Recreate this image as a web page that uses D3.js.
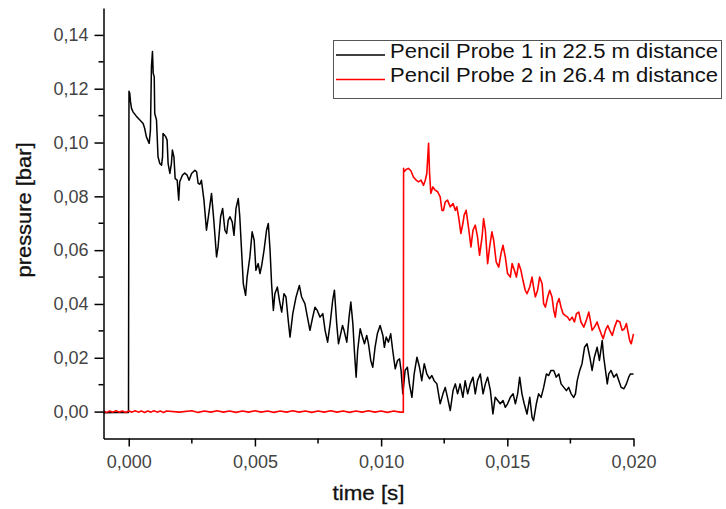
<!DOCTYPE html>
<html>
<head>
<meta charset="utf-8">
<script src="https://cdn.jsdelivr.net/npm/d3@7/dist/d3.min.js"></script>
<style>
  html, body { margin: 0; padding: 0; background: #ffffff; }
  svg { display: block; font-family: "Liberation Sans", Arial, sans-serif; }
</style>
</head>
<body>
<svg id="chart" width="726" height="509"></svg>
<script>
// Pressure traces of two pencil probes.
// Each entry: [time in s, pressure in bar]

const probe1 = [
  [-0.00100,-0.0004],[-0.00050,-0.0003],[-0.00001,-0.0003],
  [0.00001,0.1191],[0.00004,0.1183],[0.00007,0.1152],[0.00011,0.1127],[0.00017,0.1114],[0.00030,0.1098],
  [0.00044,0.1084],[0.00057,0.1071],[0.00063,0.1053],[0.00070,0.1021],[0.00081,0.0997],[0.00086,0.1046],
  [0.00090,0.1282],[0.00094,0.1338],[0.00097,0.1257],[0.00101,0.1245],[0.00103,0.1108],[0.00110,0.1084],
  [0.00116,0.0947],[0.00123,0.0922],[0.00130,0.0916],[0.00134,0.0947],[0.00136,0.1034],[0.00147,0.1021],
  [0.00152,0.1009],[0.00156,0.0922],[0.00163,0.0885],[0.00169,0.0922],[0.00173,0.0972],[0.00179,0.0947],
  [0.00184,0.0866],[0.00192,0.0860],[0.00198,0.0786],[0.00202,0.0854],[0.00213,0.0879],[0.00222,0.0887],
  [0.00231,0.0879],[0.00239,0.0860],[0.00249,0.0885],[0.00262,0.0897],[0.00269,0.0891],[0.00275,0.0848],
  [0.00282,0.0845],[0.00288,0.0860],[0.00298,0.0786],[0.00308,0.0674],[0.00319,0.0748],[0.00328,0.0811],
  [0.00337,0.0711],[0.00348,0.0575],[0.00354,0.0612],[0.00364,0.0724],[0.00372,0.0755],[0.00381,0.0674],
  [0.00388,0.0662],[0.00394,0.0711],[0.00401,0.0724],[0.00410,0.0705],[0.00417,0.0655],[0.00425,0.0755],
  [0.00434,0.0792],[0.00440,0.0724],[0.00447,0.0599],[0.00454,0.0475],[0.00463,0.0432],[0.00469,0.0500],
  [0.00480,0.0575],[0.00489,0.0668],[0.00497,0.0637],[0.00504,0.0525],[0.00513,0.0550],[0.00520,0.0513],
  [0.00527,0.0544],[0.00536,0.0599],[0.00546,0.0674],[0.00553,0.0699],[0.00560,0.0599],[0.00566,0.0475],
  [0.00573,0.0376],[0.00579,0.0438],[0.00589,0.0463],[0.00597,0.0413],[0.00606,0.0370],[0.00615,0.0438],
  [0.00623,0.0426],[0.00632,0.0339],[0.00639,0.0277],[0.00650,0.0364],[0.00663,0.0426],[0.00676,0.0469],
  [0.00685,0.0426],[0.00698,0.0401],[0.00708,0.0351],[0.00718,0.0302],[0.00729,0.0351],[0.00738,0.0388],
  [0.00747,0.0376],[0.00758,0.0351],[0.00769,0.0364],[0.00778,0.0302],[0.00788,0.0258],[0.00798,0.0327],
  [0.00808,0.0413],[0.00815,0.0451],[0.00824,0.0327],[0.00831,0.0252],[0.00837,0.0277],[0.00847,0.0320],
  [0.00853,0.0302],[0.00864,0.0258],[0.00873,0.0351],[0.00880,0.0407],[0.00888,0.0327],[0.00894,0.0227],
  [0.00901,0.0128],[0.00907,0.0227],[0.00917,0.0308],[0.00926,0.0277],[0.00934,0.0252],[0.00943,0.0283],
  [0.00950,0.0252],[0.00959,0.0190],[0.00967,0.0165],[0.00976,0.0239],[0.00985,0.0289],[0.00996,0.0320],
  [0.01007,0.0283],[0.01013,0.0239],[0.01020,0.0277],[0.01029,0.0258],[0.01038,0.0289],[0.01046,0.0227],
  [0.01056,0.0159],[0.01065,0.0190],[0.01073,0.0196],[0.01079,0.0153],[0.01086,0.0066],[0.01095,0.0153],
  [0.01104,0.0165],[0.01112,0.0103],[0.01122,0.0053],[0.01131,0.0140],[0.01142,0.0202],[0.01152,0.0165],
  [0.01161,0.0115],[0.01171,0.0178],[0.01181,0.0140],[0.01192,0.0122],[0.01201,0.0134],[0.01210,0.0115],
  [0.01221,0.0103],[0.01234,0.0029],[0.01245,0.0066],[0.01254,0.0090],[0.01263,0.0053],[0.01274,0.0004],
  [0.01285,0.0078],[0.01294,0.0103],[0.01303,0.0066],[0.01313,0.0103],[0.01324,0.0053],[0.01333,0.0115],
  [0.01343,0.0066],[0.01353,0.0103],[0.01364,0.0128],[0.01373,0.0066],[0.01382,0.0115],[0.01393,0.0140],
  [0.01404,0.0066],[0.01413,0.0103],[0.01422,0.0128],[0.01433,0.0078],[0.01443,-0.0009],[0.01452,0.0053],
  [0.01462,0.0041],[0.01472,0.0029],[0.01483,0.0041],[0.01492,0.0016],[0.01501,0.0029],[0.01512,0.0053],
  [0.01523,0.0066],[0.01532,0.0029],[0.01541,0.0066],[0.01549,0.0128],[0.01558,0.0066],[0.01567,0.0029],
  [0.01578,-0.0009],[0.01589,0.0053],[0.01598,-0.0021],[0.01604,-0.0034],[0.01615,0.0029],[0.01624,0.0066],
  [0.01634,0.0053],[0.01644,0.0090],[0.01655,0.0140],[0.01664,0.0134],[0.01673,0.0153],[0.01684,0.0153],
  [0.01694,0.0128],[0.01704,0.0140],[0.01713,0.0103],[0.01724,0.0090],[0.01734,0.0078],[0.01743,0.0090],
  [0.01753,0.0066],[0.01763,0.0053],[0.01770,0.0066],[0.01777,0.0115],[0.01787,0.0153],[0.01796,0.0178],
  [0.01806,0.0239],[0.01816,0.0252],[0.01827,0.0202],[0.01836,0.0153],[0.01845,0.0202],[0.01856,0.0239],
  [0.01865,0.0190],[0.01876,0.0264],[0.01882,0.0202],[0.01889,0.0153],[0.01896,0.0103],[0.01902,0.0140],
  [0.01911,0.0153],[0.01922,0.0128],[0.01933,0.0140],[0.01942,0.0115],[0.01951,0.0090],[0.01962,0.0085],
  [0.01972,0.0103],[0.01981,0.0128],[0.01988,0.0140],[0.02000,0.0140]
];

const probe2 = [
  // noisy zero line before the shock arrives
  [-0.00100,0.0002],[-0.00088,-0.0003],[-0.00075,0.0002],[-0.00063,-0.0002],[-0.00050,0.0003],
  [-0.00038,-0.0002],[-0.00025,0.0002],[-0.00013,-0.0003],[0.00000,0.0002],[0.00013,-0.0002],
  [0.00025,0.0003],[0.00038,-0.0002],[0.00050,0.0002],[0.00063,-0.0003],[0.00075,0.0002],
  [0.00088,-0.0002],[0.00100,0.0003],[0.00113,-0.0002],[0.00125,0.0002],[0.00138,-0.0003],
  [0.00150,0.0002],[0.00200,-0.0002],[0.00250,0.0003],[0.00275,-0.0003],[0.00300,0.0002],
  [0.00325,-0.0002],[0.00350,0.0003],[0.00375,-0.0002],[0.00400,0.0002],[0.00425,-0.0003],
  [0.00450,0.0002],[0.00475,-0.0002],[0.00500,0.0003],[0.00525,-0.0002],[0.00550,0.0002],
  [0.00575,-0.0003],[0.00600,0.0002],[0.00625,-0.0002],[0.00650,0.0003],[0.00675,-0.0002],
  [0.00700,0.0002],[0.00725,-0.0003],[0.00750,0.0002],[0.00775,-0.0002],[0.00800,0.0003],
  [0.00825,-0.0002],[0.00850,0.0002],[0.00875,-0.0003],[0.00900,0.0002],[0.00925,-0.0002],
  [0.00950,0.0003],[0.00975,-0.0002],[0.01000,0.0002],[0.01025,-0.0003],[0.01050,0.0002],
  [0.01075,-0.0002],[0.01088,-0.0002],
  // shock front and decay
  [0.01089,0.0904],[0.01091,0.0891],[0.01099,0.0900],[0.01108,0.0904],[0.01118,0.0895],[0.01128,0.0872],
  [0.01139,0.0860],[0.01148,0.0854],[0.01158,0.0860],[0.01168,0.0841],[0.01175,0.0860],[0.01181,0.0885],
  [0.01188,0.0997],[0.01192,0.0885],[0.01197,0.0811],[0.01205,0.0835],[0.01214,0.0823],[0.01224,0.0817],
  [0.01234,0.0798],[0.01241,0.0748],[0.01247,0.0748],[0.01254,0.0779],[0.01263,0.0786],[0.01274,0.0761],
  [0.01285,0.0773],[0.01294,0.0748],[0.01300,0.0761],[0.01307,0.0724],[0.01316,0.0662],[0.01324,0.0699],
  [0.01329,0.0730],[0.01337,0.0748],[0.01346,0.0686],[0.01356,0.0612],[0.01364,0.0674],[0.01373,0.0693],
  [0.01382,0.0649],[0.01390,0.0581],[0.01400,0.0649],[0.01406,0.0717],[0.01413,0.0674],[0.01422,0.0550],
  [0.01430,0.0612],[0.01439,0.0668],[0.01446,0.0637],[0.01456,0.0556],[0.01466,0.0537],[0.01475,0.0587],
  [0.01483,0.0618],[0.01492,0.0575],[0.01501,0.0513],[0.01512,0.0500],[0.01519,0.0550],[0.01528,0.0525],
  [0.01536,0.0500],[0.01545,0.0550],[0.01554,0.0525],[0.01562,0.0488],[0.01571,0.0451],[0.01578,0.0438],
  [0.01589,0.0463],[0.01598,0.0500],[0.01604,0.0463],[0.01611,0.0426],[0.01620,0.0451],[0.01628,0.0500],
  [0.01638,0.0475],[0.01644,0.0401],[0.01651,0.0388],[0.01660,0.0426],[0.01668,0.0451],[0.01677,0.0426],
  [0.01684,0.0376],[0.01690,0.0351],[0.01697,0.0401],[0.01705,0.0420],[0.01713,0.0388],[0.01721,0.0364],
  [0.01730,0.0357],[0.01739,0.0351],[0.01747,0.0339],[0.01757,0.0351],[0.01766,0.0333],[0.01774,0.0364],
  [0.01783,0.0370],[0.01792,0.0333],[0.01803,0.0314],[0.01813,0.0339],[0.01823,0.0370],[0.01829,0.0339],
  [0.01836,0.0302],[0.01845,0.0314],[0.01856,0.0333],[0.01862,0.0314],[0.01872,0.0289],[0.01880,0.0271],
  [0.01889,0.0302],[0.01898,0.0320],[0.01906,0.0302],[0.01916,0.0283],[0.01925,0.0314],[0.01935,0.0339],
  [0.01946,0.0333],[0.01955,0.0302],[0.01964,0.0308],[0.01972,0.0327],[0.01977,0.0302],[0.01985,0.0264],
  [0.01991,0.0252],[0.02000,0.0289]
];

const seriesNames = ["Pencil Probe 1 in 22.5 m distance", "Pencil Probe 2 in 26.4 m distance"];
const seriesColors = ["#000000", "#ff0000"];

const xTicks = [0, 0.005, 0.010, 0.015, 0.020];
const xTickLabels = ["0,000", "0,005", "0,010", "0,015", "0,020"];
const xMinorTicks = [0.0025, 0.0075, 0.0125, 0.0175];

const yTicks = [0, 0.02, 0.04, 0.06, 0.08, 0.10, 0.12, 0.14];
const yTickLabels = ["0,00", "0,02", "0,04", "0,06", "0,08", "0,10", "0,12", "0,14"];
const yMinorTicks = [0.01, 0.03, 0.05, 0.07, 0.09, 0.11, 0.13];

(function () {
  const svg = d3.select("#chart");

  // plot frame (pixels)
  const left = 103.5, right = 633.5, top = 8, bottom = 438.5;

  const x = d3.scaleLinear().domain([-0.001, 0.020]).range([left, right]);
  const y = d3.scaleLinear().domain([-0.010, 0.150]).range([bottom, top]);

  const tickColor = "#444";
  const font = "'Liberation Sans', Arial, sans-serif";

  // --- curves (black first, red drawn on top)
  const line = d3.line()
    .x(d => x(d[0]))
    .y(d => y(d[1]));

  [probe1, probe2].forEach((data, i) => {
    svg.append("path")
      .datum(data)
      .attr("fill", "none")
      .attr("stroke", seriesColors[i])
      .attr("stroke-width", i === 1 ? 1.6 : 1.5)
      .attr("stroke-linejoin", "round")
      .attr("d", line);
  });

  // --- axes
  const xAxis = svg.append("g")
    .attr("transform", `translate(0,${bottom})`)
    .call(d3.axisBottom(x)
      .tickValues(xTicks)
      .tickFormat((d, i) => xTickLabels[i])
      .tickSizeInner(8)
      .tickSizeOuter(0)
      .tickPadding(9));

  const yAxis = svg.append("g")
    .attr("transform", `translate(${left},0)`)
    .call(d3.axisLeft(y)
      .tickValues(yTicks)
      .tickFormat((d, i) => yTickLabels[i])
      .tickSizeInner(9)
      .tickSizeOuter(0)
      .tickPadding(6));

  [xAxis, yAxis].forEach(g => {
    g.select(".domain").attr("stroke", "#000").attr("stroke-width", 1.5);
    g.selectAll(".tick line").attr("stroke", "#000").attr("stroke-width", 1.5);
    g.selectAll(".tick text")
      .attr("fill", tickColor)
      .style("font-family", font)
      .style("font-size", "18px");
  });

  // minor ticks
  svg.append("g")
    .selectAll("line")
    .data(xMinorTicks)
    .join("line")
    .attr("x1", d => x(d)).attr("x2", d => x(d))
    .attr("y1", bottom).attr("y2", bottom + 5)
    .attr("stroke", "#000").attr("stroke-width", 1.5);

  svg.append("g")
    .selectAll("line")
    .data(yMinorTicks)
    .join("line")
    .attr("x1", left - 5).attr("x2", left)
    .attr("y1", d => y(d)).attr("y2", d => y(d))
    .attr("stroke", "#000").attr("stroke-width", 1.5);

  // --- axis titles
  svg.append("text")
    .attr("x", (left + right) / 2)
    .attr("y", 500)
    .attr("text-anchor", "middle")
    .attr("textLength", 72)
    .attr("lengthAdjust", "spacingAndGlyphs")
    .style("font-size", "20px")
    .attr("fill", "#111")
    .attr("stroke", "#111")
    .attr("stroke-width", 0.3)
    .text("time [s]");

  svg.append("text")
    .attr("transform", "translate(31,210) rotate(-90)")
    .attr("text-anchor", "middle")
    .attr("textLength", 135)
    .attr("lengthAdjust", "spacingAndGlyphs")
    .style("font-size", "20px")
    .attr("fill", "#111")
    .attr("stroke", "#111")
    .attr("stroke-width", 0.3)
    .text("pressure [bar]");

  // --- legend
  const legend = svg.append("g");

  legend.append("rect")
    .attr("x", 333.5).attr("y", 40.5)
    .attr("width", 388).attr("height", 58)
    .attr("fill", "#fff")
    .attr("stroke", "#555")
    .attr("stroke-width", 1);

  seriesNames.forEach((name, i) => {
    const ly = 55 + i * 24.5;
    legend.append("line")
      .attr("x1", 336).attr("x2", 385)
      .attr("y1", ly).attr("y2", ly)
      .attr("stroke", seriesColors[i])
      .attr("stroke-width", 1.5);
    legend.append("text")
      .attr("x", 390)
      .attr("y", ly + 2.5)
      .attr("textLength", 328)
      .attr("lengthAdjust", "spacingAndGlyphs")
      .style("font-size", "20px")
      .attr("fill", "#111")
      .text(name);
  });
})();
</script>
</body>
</html>
